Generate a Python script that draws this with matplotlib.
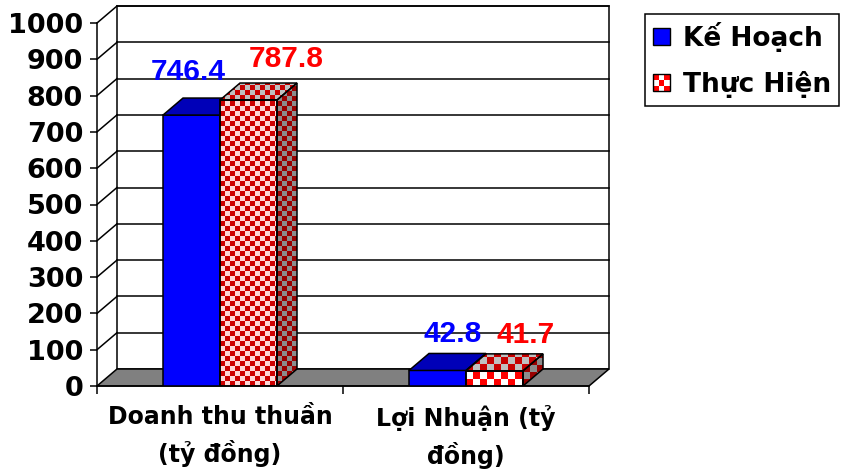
import numpy as np
import matplotlib
matplotlib.use("Agg")
import matplotlib.pyplot as plt
from matplotlib.patches import Polygon, Rectangle, Patch
from matplotlib.legend_handler import HandlerBase
from matplotlib.colors import to_rgb

# data
categories = ["Doanh thu thuần\n(tỷ đồng)", "Lợi Nhuận (tỷ\nđồng)"]
series_names = ["Kế Hoạch", "Thực Hiện"]
ke_hoach = [746.4, 42.8]
thuc_hien = [787.8, 41.7]
y_ticks = list(range(0, 1001, 100))

# label nudges in pixels (x, y above the back edge of the bar top)
nudge_kh = [(-3, 18), (15, 11)]
nudge_th = [(38, 16), (31, 11)]

plt.rcParams['font.family'] = ['DejaVu Sans']
plt.rcParams['font.weight'] = 'bold'

fig = plt.figure(figsize=(8.41, 4.74), dpi=100)
# front plane of the 3d box, in pixels: x 97..589, y 386 (0) .. 23 (1000)
ax = fig.add_axes([97 / 841, 1 - 386 / 474, (589 - 97) / 841, (386 - 23) / 474])

PX_X = 2.0 / (589 - 97)        # data units per pixel
PX_Y = 1000.0 / (386 - 23)
DX = 20 * PX_X                 # depth offset
DY = 17 * PX_Y
W = 57 * PX_X                  # bar width
X0, X1 = -0.5, 1.5
LW = 1.1


def checker(verts, c1, c2, cell, z):
    verts = np.array(verts)
    x0, y0 = verts.min(0)
    x1, y1 = verts.max(0)
    cx, cy = cell * PX_X, cell * PX_Y
    nx = int(np.ceil((x1 - x0) / cx)) + 1
    ny = int(np.ceil((y1 - y0) / cy)) + 1
    par = np.add.outer(np.arange(ny), np.arange(nx)) % 2
    img = np.where(par[..., None] == 0, to_rgb(c1), to_rgb(c2))
    im = ax.imshow(img, extent=(x0, x0 + nx * cx, y0, y0 + ny * cy), origin='lower',
                   aspect='auto', interpolation='nearest', zorder=z)
    poly = Polygon(verts, closed=True, facecolor='none', edgecolor='black', lw=LW, zorder=z + 0.1)
    ax.add_patch(poly)
    im.set_clip_path(poly)


def faces(left, v):
    front = [(left, 0), (left + W, 0), (left + W, v), (left, v)]
    top = [(left, v), (left + W, v), (left + W + DX, v + DY), (left + DX, v + DY)]
    side = [(left + W, 0), (left + W + DX, DY), (left + W + DX, v + DY), (left + W, v)]
    return front, top, side


# back wall, floor, side wall lines
ax.add_patch(Polygon([(X0 + DX, DY), (X1 + DX, DY), (X1 + DX, 1000 + DY), (X0 + DX, 1000 + DY)],
                     facecolor='white', edgecolor='black', lw=LW, zorder=0.5, clip_on=False))
ax.add_patch(Polygon([(X0, 0), (X1, 0), (X1 + DX, DY), (X0 + DX, DY)],
                     facecolor='#808080', edgecolor='black', lw=LW, zorder=0.8, clip_on=False))
for t in y_ticks[1:]:
    ax.plot([X0 + DX, X1 + DX], [t + DY, t + DY], color='black', lw=LW, zorder=0.6, clip_on=False)
    ax.plot([X0, X0 + DX], [t, t + DY], color='black', lw=LW, zorder=0.6, clip_on=False)

xs = np.arange(len(categories))
for i, x in enumerate(xs):
    # Ke hoach (blue)
    left = x - W
    ax.bar(left, ke_hoach[i], W, align='edge', color='#0000FF', edgecolor='black', lw=LW, zorder=3)
    front, top, side = faces(left, ke_hoach[i])
    ax.add_patch(Polygon(top, facecolor='#0000B8', edgecolor='black', lw=LW, zorder=3, clip_on=False))
    ax.add_patch(Polygon(side, facecolor='#000080', edgecolor='black', lw=LW, zorder=3, clip_on=False))
    # Thuc hien (checkered red)
    left = x
    v = thuc_hien[i]
    ax.bar(left, v, W, align='edge', color='none', edgecolor='black', lw=LW, zorder=4.5)
    front, top, side = faces(left, v)
    cell = 5 if v > 100 else 7
    if v > 100:
        checker(front, '#CC0000', '#FFD8D8', cell, 4)
    else:
        checker(front, '#FF0000', '#FFFFFF', cell, 4)
    checker(top, '#C80000', '#C0C0C0', cell, 4)
    checker(side, '#990000', '#8C8C8C', cell, 4)

# data labels
lab_font = dict(family='Liberation Sans', weight='bold', size=21.5)
for i, x in enumerate(xs):
    nx_, ny_ = nudge_kh[i]
    ax.text(x - W / 2 + nx_ * PX_X, ke_hoach[i] + DY + ny_ * PX_Y, f"{ke_hoach[i]}",
            color='#0000FF', ha='center', va='baseline', zorder=6, **lab_font)
    nx_, ny_ = nudge_th[i]
    ax.text(x + W / 2 + nx_ * PX_X, thuc_hien[i] + DY + ny_ * PX_Y, f"{thuc_hien[i]}",
            color='#FF0000', ha='center', va='baseline', zorder=6, **lab_font)

ax.set_xlim(X0, X1)
ax.set_ylim(0, 1000)
for s in ['top', 'right']:
    ax.spines[s].set_visible(False)
for s in ['left', 'bottom']:
    ax.spines[s].set_linewidth(LW)
    ax.spines[s].set_zorder(2)
ax.patch.set_visible(False)

ax.set_yticks(y_ticks)
ax.set_yticklabels([str(t) for t in y_ticks], fontsize=19.5, fontweight='bold')
ax.tick_params(axis='y', length=5, width=LW, pad=5)
ax.set_xticks(xs)
ax.set_xticklabels(categories, fontsize=17, fontweight='bold', linespacing=1.5)
ax.set_xticks([X0, 0.5, X1], minor=True)
ax.tick_params(axis='x', which='major', length=0, pad=13.5)
ax.tick_params(axis='x', which='minor', length=6, width=LW)


class CheckerHandler(HandlerBase):
    def create_artists(self, legend, orig_handle, xdescent, ydescent, width, height, fontsize, trans):
        arts = []
        n = 3
        for a in range(n):
            for b in range(n):
                c = '#FF0000' if (a + b) % 2 == 0 else '#FFFFFF'
                arts.append(Rectangle((-xdescent + a * width / n, -ydescent + b * height / n),
                                      width / n, height / n, facecolor=c, edgecolor='none', transform=trans))
        arts.append(Rectangle((-xdescent, -ydescent), width, height, facecolor='none',
                              edgecolor='black', lw=1, transform=trans))
        return arts


h_blue = Patch(facecolor='#0000FF', edgecolor='black', lw=1)
h_red = Patch(facecolor='#FF0000')
leg = fig.legend([h_blue, h_red], series_names, loc='upper left',
                 bbox_to_anchor=(645 / 841, 1 - 14 / 474), borderaxespad=0,
                 frameon=True, fancybox=False, edgecolor='black', framealpha=1,
                 prop=dict(weight='bold', size=19), handlelength=0.65, handleheight=0.65,
                 handletextpad=0.5, borderpad=0.3, labelspacing=0.72,
                 handler_map={h_red: CheckerHandler()})
leg.get_frame().set_linewidth(LW)

fig.savefig('out.png', dpi=100)
